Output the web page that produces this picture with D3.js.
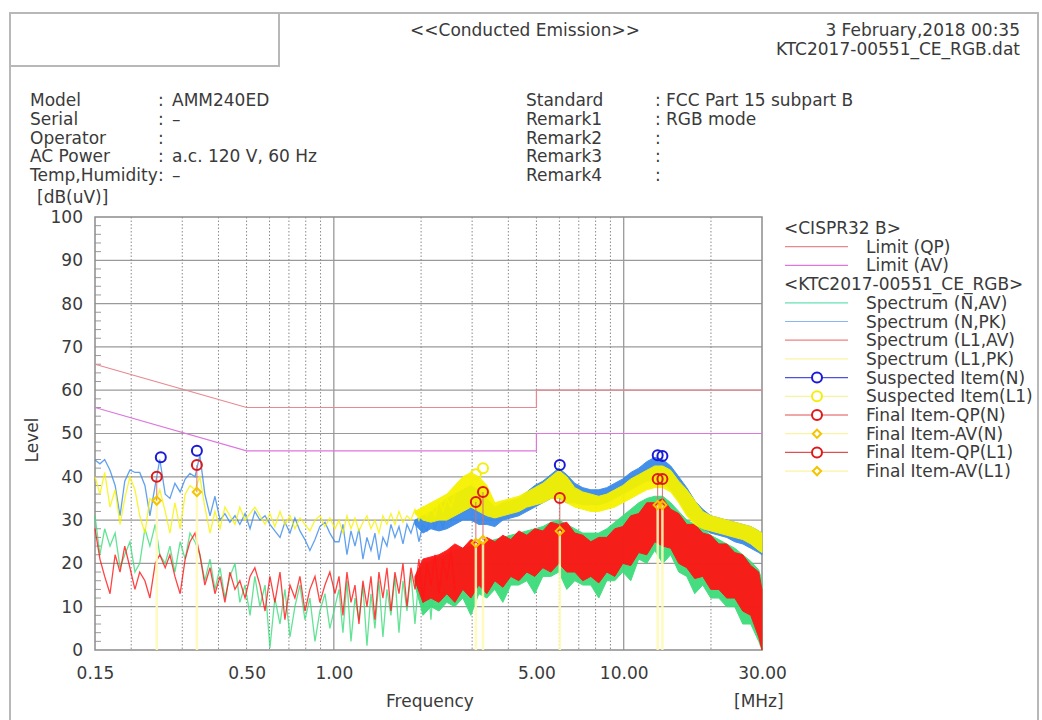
<!DOCTYPE html>
<html>
<head>
<meta charset="utf-8">
<script src="https://cdn.jsdelivr.net/npm/d3@7"></script>
<style>
  body { margin: 0; background: #fff; }
  text { font-family: "DejaVu Sans", sans-serif; fill: #3a3a3a; }
</style>
</head>
<body>
<div id="chart"></div>
<script>
// ---- data ----
const limitFreq = [0.15, 0.5, 5, 5, 30];
const limitQp = [66, 56, 56, 60, 60];
const limitAv = [56, 46, 46, 50, 50];

// sparse part of the sweep (0.15 - 2.6 MHz)
const lowFreq = [0.150,0.156,0.162,0.169,0.176,0.183,0.190,0.198,0.206,0.214,0.223,0.232,0.242,0.251,0.262,0.272,0.283,0.295,0.307,0.319,0.332,0.345,0.359,0.374,0.389,0.405,0.421,0.438,0.456,0.474,0.494,0.514,0.534,0.556,0.579,0.602,0.626,0.652,0.678,0.706,0.734,0.764,0.795,0.827,0.861,0.895,0.932,0.969,1.009,
  1.042,1.075,1.110,1.146,1.183,1.221,1.260,1.301,1.343,1.386,1.431,1.477,1.525,1.574,1.625,1.678,1.732,1.788,1.845,1.905,1.966,2.030,2.095,2.163,2.233,2.305,2.379,2.456,2.535,2.617];
const nAvLow  = [31,22,28,24,27,19,22,25,18,20,28,24,29,22,20,24,18,25,21,27,25,22,16,21,14,19,12,17,20,11,15,8,17,10,15,0.5,12,6,14,3,10,15,7,12,2,9,13,5,10,
  14,4,16,2,12,7,15,1,13,5,16,3,14,8,17,4,16,9,18,6,17,10,19,7,20,11,19,12,21,13];
const nPkLow  = [43.9,43,44,41.5,38,31,39,41.6,41,41,38,31,38,44,36,35,38.5,36.5,39.5,40.8,40,45,36,31,35.5,30,31.5,29.5,31,29,31.5,28,32,30,31,29,27.5,26,29.5,27,30.5,27.5,25.5,23,25.5,28.5,29.5,27,25,
  25,29,22,27.5,24,28,21,26,23,27,20.8,26,24,29,26,28.5,24.5,29,27,30,25,29,27.5,31,28,31.5,28,33,30,34];
const l1AvLow = [28,21,17,13,22,18,24,19,14,18,16,12,20,22,19,22,17,13,21,25,27,22,15,19,13,17,11,18,14,16,12,17,19,15,9,17,11,18,7,15,12,17,9,14,17,11,15,18,13,
  17,8,18,11,15,6,16,10,17,7,18,12,19,9,18,13,20,10,19,14,21,11,20,15,22,13,21,16,23,14];
const l1PkLow = [40,36,41,33,37,29,35,40,37,31,27,35,34,37,32,27,34,28,36,38,37,40,33,27,32,28,33,31,29,33,30,31.5,33,31,29,31.5,28.5,32,29,31,28,30.5,29,27.5,30,31,28.5,30.5,28,
  30,27,31,28,30.5,27.5,29.5,31,28,30,27,31,29,31.5,29,32,29.5,31,30,32.5,30,33,31,33.5,31,34.5,32,35,33,36];

// dense part of the sweep (1.9 - 30 MHz), min / max envelope
const bandFreq = [1.905,2.030,2.163,2.305,2.454,2.615,2.787,2.970,3.164,3.372,3.593,3.829,4.080,4.347,4.632,4.936,5.260,5.605,5.972,6.364,6.781,7.226,7.700,8.205,8.743,9.317,9.928,10.58,11.27,12.01,12.80,13.64,14.53,15.49,16.50,17.58,18.74,19.97,21.28,22.67,24.16,25.74,27.43,29.23,30.0];
const nAvLo  = [15,8,10,9,11,10,12,8,13,12,14,11,15,15,16,13,17,17,18,14,16,15,15,12,16,16,18,16,21,20,23,20,22,18,17,13,15,12,12,10,10,6,6,2,0];
const nAvHi  = [16,20,20.5,21.5,22,23,23.5,24,24.5,25,25.5,26,26.5,27,27.5,28,28.5,29.5,30,29,28,27,27,27,28,29.5,31,32.5,34,35,35.5,35.5,34,32,30,29,28,26.5,25.5,24.5,23.5,22,20.5,18.5,16];
const nPkLo  = [29,27,28,27.5,28,29,30,30,29,29,28.5,30,30.5,31,32,33,34,35,35,34,34,33.5,33.5,33.5,34,35,36,37,38,39,39,38.5,37,34.5,31.5,29.5,28,27,26.5,26,25,24.5,23.5,22.5,22];
const nPkHi  = [30,31,32,33.5,35,36,37,38,37,35,33,34,34.5,35,36.5,38,39,40.5,42,40.5,38.5,37.5,37,37,37.5,38.5,39.5,41,42,43.5,44.5,44,42.5,40,37.5,34.5,32.5,31,30.5,30,29.5,29,28.5,27.5,27];
const l1AvLo = [16,11,12,11,13,11,14,12,15,13,16,14.5,17,16,18,17,19,18,20,18,18,16,17,15.5,18,17,20,19.5,22.5,22,25,24,23.5,20,19,16.5,17,14,14,12,12,9,8,3,0];
const l1AvHi = [17,21,21.5,22,23,24.5,23.5,25.5,24.5,26,25,26.5,25.5,27.5,26.5,28,27.5,29.5,29,29.5,27,26.5,25,26,26,28,28.5,31,31.5,34,34,35,32.5,31.5,29,29,27,26.5,24.5,24.5,22.5,22,19.5,18,14];
const l1PkLo = [31.5,30,29.5,30,30,31,32,33,32,31,30.5,31,31.5,32,33,33.5,34,35,35,34,33,32.5,32,32,32.5,33,34,35,36,37,37.5,37.5,36.5,34,31,29,28,27.5,27,26.5,26,25.5,24.5,23,22.5];
const l1PkHi = [32,33,34,35,36,38,40,41,40,38,34,34.5,35,35.5,36.5,37.5,38.5,40,41.5,40,37.5,36.5,36,35.5,36,37,38,39.5,40.5,41.5,42.5,42.5,41.5,39,37,34.5,32,31,30.5,30,29.5,29,28.5,27.5,27];

// markers
const suspNFreq = [0.253, 0.337, 6.02, 13.1, 13.6];
const suspNLevel = [44.5, 46, 42.7, 45, 44.8];
const suspL1Freq = [3.09, 3.27];
const suspL1Level = [40.6, 42];
const qpNFreq = [0.245, 0.337, 6.02, 13.1];
const qpNLevel = [40, 42.7, 35.1, 39.5];
const avNLevel = [34.5, 36.5, 27.5, 33.5];
const qpL1Freq = [3.09, 3.27, 13.6];
const qpL1Level = [34.2, 36.5, 39.5];
const avL1Level = [24.7, 25.4, 33.5];

const yTicks = [0,10,20,30,40,50,60,70,80,90,100];
const xTicks = [0.15, 0.5, 1, 5, 10, 30];
const dottedFreqs = [0.2,0.3,0.4,0.5,0.6,0.7,0.8,0.9,2,3,4,5,6,7,8,9,20];
const solidFreqs = [1, 10];

const infoLabels = ["Model", "Serial", "Operator", "AC Power", "Temp,Humidity"];
const infoValues = ["AMM240ED", "–", "", "a.c. 120 V, 60 Hz", "–"];
const remarkLabels = ["Standard", "Remark1", "Remark2", "Remark3", "Remark4"];
const remarkValues = ["FCC Part 15 subpart B", "RGB mode", "", "", ""];

const legendLabels = ["<CISPR32 B>", "Limit (QP)", "Limit (AV)", "<KTC2017-00551_CE_RGB>",
  "Spectrum (N,AV)", "Spectrum (N,PK)", "Spectrum (L1,AV)", "Spectrum (L1,PK)",
  "Suspected Item(N)", "Suspected Item(L1)", "Final Item-QP(N)", "Final Item-AV(N)",
  "Final Item-QP(L1)", "Final Item-AV(L1)"];

// ---- layout ----
const width = 1042, height = 720;
const plot = { left: 95, right: 762, top: 217, bottom: 650 };
const col = {
  qp: "#e88890", av: "#dd77dd",
  nAv: "#3cdc7a", nPk: "#3a8ae8", l1Av: "#ff1414", l1Pk: "#f6f200",
  susN: "#1a1ad8", susL1: "#f4ee10", qpMark: "#e01818", avMark: "#f5c400"
};
const fontSize = 17;

const svg = d3.select("#chart").append("svg")
    .attr("width", width)
    .attr("height", height);

const x = d3.scaleLog().domain([0.15, 30]).range([plot.left, plot.right]);
const y = d3.scaleLinear().domain([0, 100]).range([plot.bottom, plot.top]);

// outer frame
const frame = svg.append("g").attr("stroke", "#b8b8b8").attr("stroke-width", 2).attr("fill", "none");
frame.append("path").attr("d", "M10,720V13H1038V720");
frame.append("path").attr("d", "M10,66H279V13");

// header
svg.append("text").attr("x", 525).attr("y", 36).attr("text-anchor", "middle")
    .style("font-size", fontSize + "px").text("<<Conducted Emission>>");
svg.append("text").attr("x", 1020).attr("y", 36).attr("text-anchor", "end")
    .style("font-size", fontSize + "px").text("3 February,2018 00:35");
svg.append("text").attr("x", 1020).attr("y", 55).attr("text-anchor", "end")
    .style("font-size", fontSize + "px").text("KTC2017-00551_CE_RGB.dat");

function infoBlock(labels, values, x0, xColon, xVal) {
  labels.forEach((l, i) => {
    const yy = 106 + i * 18.8;
    svg.append("text").attr("x", x0).attr("y", yy).style("font-size", fontSize + "px").text(l);
    svg.append("text").attr("x", xColon).attr("y", yy).style("font-size", fontSize + "px").text(":");
    svg.append("text").attr("x", xVal).attr("y", yy).style("font-size", fontSize + "px").text(values[i]);
  });
}
infoBlock(infoLabels, infoValues, 30, 158, 172);
infoBlock(remarkLabels, remarkValues, 526, 655, 666);

svg.append("text").attr("x", 37).attr("y", 203).style("font-size", fontSize + "px").text("[dB(uV)]");

// grid
const grid = svg.append("g");
grid.selectAll(".hg").data(yTicks.slice(1, -1)).enter().append("line")
    .attr("x1", plot.left).attr("x2", plot.right)
    .attr("y1", d => y(d)).attr("y2", d => y(d))
    .attr("stroke", "#9a9a9a").attr("stroke-width", 1.2);
grid.selectAll(".vd").data(dottedFreqs).enter().append("line")
    .attr("x1", d => x(d)).attr("x2", d => x(d))
    .attr("y1", plot.top).attr("y2", plot.bottom)
    .attr("stroke", "#8a8a8a").attr("stroke-width", 1).attr("stroke-dasharray", "1.5,2");
grid.selectAll(".vs").data(solidFreqs).enter().append("line")
    .attr("x1", d => x(d)).attr("x2", d => x(d))
    .attr("y1", plot.top).attr("y2", plot.bottom)
    .attr("stroke", "#9a9a9a").attr("stroke-width", 1.3);
grid.selectAll(".mt").data(d3.range(0, 101, 2).filter(v => v % 10 !== 0)).enter().append("line")
    .attr("x1", plot.left).attr("x2", plot.left + 6)
    .attr("y1", d => y(d)).attr("y2", d => y(d))
    .attr("stroke", "#9a9a9a").attr("stroke-width", 1);
grid.append("rect")
    .attr("x", plot.left).attr("y", plot.top)
    .attr("width", plot.right - plot.left).attr("height", plot.bottom - plot.top)
    .attr("fill", "none").attr("stroke", "#8c8c8c").attr("stroke-width", 1.5);

// axes labels
const yAxis = svg.append("g").attr("transform", `translate(${plot.left},0)`)
    .call(d3.axisLeft(y).tickValues(yTicks).tickSize(0).tickPadding(12));
const xAxis = svg.append("g").attr("transform", `translate(0,${plot.bottom})`)
    .call(d3.axisBottom(x).tickValues(xTicks).tickFormat(d3.format(".2f")).tickSize(0).tickPadding(17));
[yAxis, xAxis].forEach(a => {
  a.select(".domain").remove();
  a.selectAll("text").style("font-size", fontSize + "px").attr("fill", "#3a3a3a")
      .style("font-family", '"DejaVu Sans", sans-serif');
});

svg.append("text").attr("transform", "translate(38,440) rotate(-90)").attr("text-anchor", "middle")
    .style("font-size", fontSize + "px").text("Level");
svg.append("text").attr("x", 430).attr("y", 707).attr("text-anchor", "middle")
    .style("font-size", fontSize + "px").text("Frequency");
svg.append("text").attr("x", 734).attr("y", 707)
    .style("font-size", fontSize + "px").text("[MHz]");

// data layer
const chart = svg.append("g");

const limitLine = d3.line().x(d => x(d[0])).y(d => y(d[1]));
chart.append("path").datum(d3.zip(limitFreq, limitQp)).attr("d", limitLine)
    .attr("fill", "none").attr("stroke", col.qp).attr("stroke-width", 1.2);
chart.append("path").datum(d3.zip(limitFreq, limitAv)).attr("d", limitLine)
    .attr("fill", "none").attr("stroke", col.av).attr("stroke-width", 1.2);

const trace = d3.line().x(d => x(d[0])).y(d => y(d[1]));
const band = d3.area().x(d => x(d[0])).y0(d => y(d[1])).y1(d => y(d[2]));

const series = [
  { low: nAvLow, lo: nAvLo, hi: nAvHi, c: col.nAv },
  { low: nPkLow, lo: nPkLo, hi: nPkHi, c: col.nPk },
  { low: l1AvLow, lo: l1AvLo, hi: l1AvHi, c: col.l1Av },
  { low: l1PkLow, lo: l1PkLo, hi: l1PkHi, c: col.l1Pk }
];
series.forEach(s => {
  chart.append("path").datum(d3.zip(bandFreq, s.lo, s.hi)).attr("d", band)
      .attr("fill", s.c).attr("stroke", s.c).attr("stroke-width", 1).attr("opacity", 0.95);
  chart.append("path").datum(d3.zip(lowFreq, s.low)).attr("d", trace)
      .attr("fill", "none").attr("stroke", s.c).attr("stroke-width", 1.3).attr("opacity", 0.8);
});

// stems for final items
const stems = chart.append("g");
const finals = [
  ...qpNFreq.map((f, i) => ({ f, qp: qpNLevel[i], av: avNLevel[i] })),
  ...qpL1Freq.map((f, i) => ({ f, qp: qpL1Level[i], av: avL1Level[i] }))
];
stems.selectAll(".ys").data(finals).enter().append("line")
    .attr("x1", d => x(d.f)).attr("x2", d => x(d.f))
    .attr("y1", plot.bottom).attr("y2", d => y(d.av))
    .attr("stroke", "#fffab8").attr("stroke-width", 2.5).attr("opacity", 0.9);
stems.selectAll(".rs").data(finals).enter().append("line")
    .attr("x1", d => x(d.f)).attr("x2", d => x(d.f))
    .attr("y1", d => y(d.av)).attr("y2", d => y(d.qp))
    .attr("stroke", "#d87070").attr("stroke-width", 1);

// markers
const marks = svg.append("g").attr("fill", "none").attr("stroke-width", 2);
const diamond = d3.symbol(d3.symbolSquare, 34);
function circles(freqs, levels, color) {
  marks.selectAll(null).data(d3.zip(freqs, levels)).enter().append("circle")
      .attr("cx", d => x(d[0])).attr("cy", d => y(d[1])).attr("r", 5)
      .attr("stroke", color);
}
function diamonds(freqs, levels, color) {
  marks.selectAll(null).data(d3.zip(freqs, levels)).enter().append("path")
      .attr("d", diamond)
      .attr("transform", d => `translate(${x(d[0])},${y(d[1])}) rotate(45)`)
      .attr("stroke", color);
}
circles(suspNFreq, suspNLevel, col.susN);
circles(suspL1Freq, suspL1Level, col.susL1);
circles(qpNFreq, qpNLevel, col.qpMark);
circles(qpL1Freq, qpL1Level, col.qpMark);
diamonds(qpNFreq, avNLevel, col.avMark);
diamonds(qpL1Freq, avL1Level, col.avMark);

// legend
const legendStyle = [
  null, { c: col.qp }, { c: col.av }, null,
  { c: "#66e0b4" }, { c: "#8ab8ee" }, { c: "#f08080" }, { c: "#f8f4a0" },
  { c: "#5050e0", m: "c", mc: col.susN }, { c: "#f8f4a0", m: "c", mc: col.susL1 },
  { c: "#e05050", m: "c", mc: col.qpMark }, { c: "#f8f4a0", m: "d", mc: col.avMark },
  { c: "#e05050", m: "c", mc: col.qpMark }, { c: "#f8f4a0", m: "d", mc: col.avMark }
];
const legend = svg.append("g");
legendLabels.forEach((label, i) => {
  const yy = 234 + i * 18.7;
  const st = legendStyle[i];
  if (!st) {
    legend.append("text").attr("x", 784).attr("y", yy).style("font-size", fontSize + "px").text(label);
    return;
  }
  const ly = yy - 6;
  legend.append("line").attr("x1", 785).attr("x2", 848).attr("y1", ly).attr("y2", ly)
      .attr("stroke", st.c).attr("stroke-width", 1.2);
  if (st.m === "c") {
    legend.append("circle").attr("cx", 817).attr("cy", ly).attr("r", 5)
        .attr("fill", "#fff").attr("stroke", st.mc).attr("stroke-width", 2);
  } else if (st.m === "d") {
    legend.append("path").attr("d", diamond)
        .attr("transform", `translate(817,${ly}) rotate(45)`)
        .attr("fill", "#fff").attr("stroke", st.mc).attr("stroke-width", 2);
  }
  legend.append("text").attr("x", 866).attr("y", yy).style("font-size", fontSize + "px").text(label);
});
</script>
</body>
</html>
